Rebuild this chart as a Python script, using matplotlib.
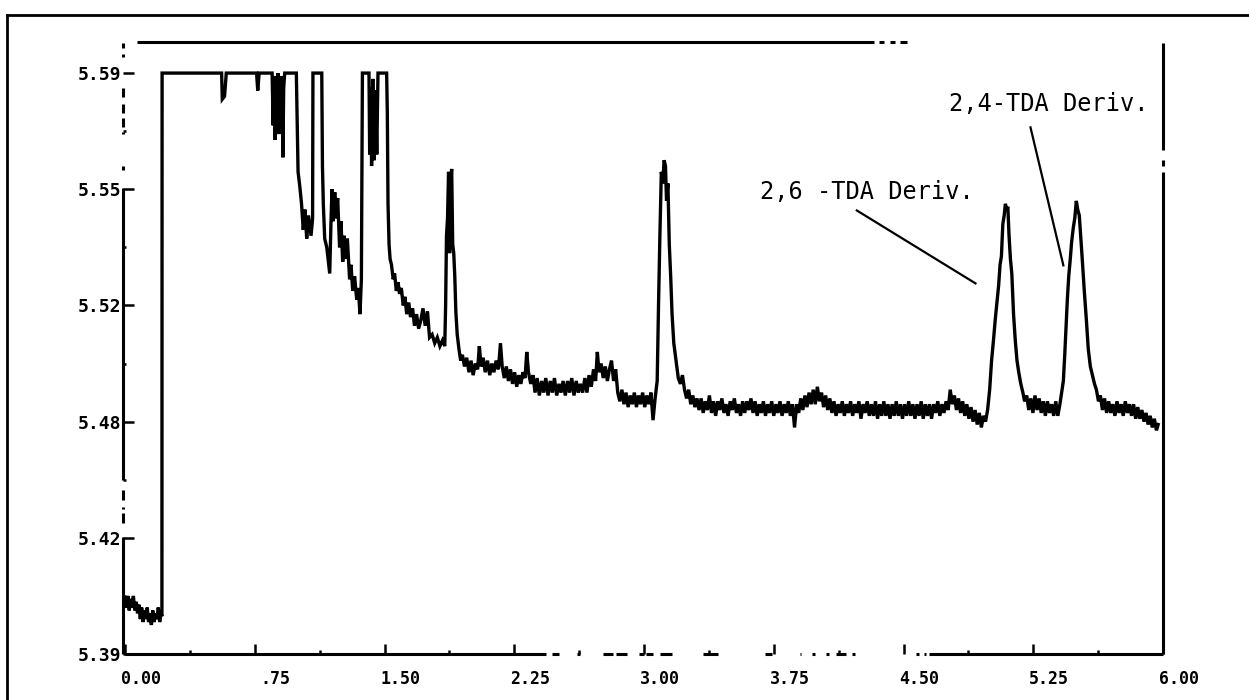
import matplotlib
matplotlib.use("Agg")
import matplotlib.pyplot as plt
from matplotlib.lines import Line2D
from matplotlib.transforms import ScaledTranslation

# ---- data (retention time in min, detector signal) ----
time_min = [
    0.000, 0.008, 0.016, 0.024, 0.032, 0.040, 0.048, 0.056, 0.064, 0.072,
    0.080, 0.088, 0.096, 0.104, 0.112, 0.120, 0.128, 0.136, 0.144, 0.152,
    0.160, 0.168, 0.176, 0.184, 0.192, 0.200, 0.208, 0.213, 0.214,
    0.558, 0.562, 0.575, 0.585, 0.760, 0.767, 0.775,
    0.850, 0.856, 0.862, 0.866, 0.872, 0.878, 0.884, 0.890, 0.896, 0.902,
    0.908, 0.912, 0.917, 0.923, 0.990, 0.995, 1.000, 1.010, 1.020, 1.030,
    1.040, 1.050, 1.060, 1.075, 1.084, 1.086, 1.137, 1.141, 1.146, 1.154,
    1.166, 1.183, 1.190, 1.196, 1.203, 1.212, 1.220, 1.229, 1.240, 1.248,
    1.258, 1.266, 1.275, 1.285, 1.298, 1.306, 1.316, 1.327, 1.339, 1.348,
    1.358, 1.366, 1.372, 1.410, 1.414, 1.420, 1.425, 1.432, 1.440, 1.448,
    1.455, 1.462, 1.512, 1.516, 1.520, 1.526, 1.532, 1.540, 1.550, 1.558,
    1.568, 1.578, 1.587, 1.597, 1.608, 1.618, 1.628, 1.640, 1.650, 1.662,
    1.673, 1.685, 1.697, 1.710, 1.722, 1.735, 1.748, 1.760, 1.775, 1.790,
    1.805, 1.820, 1.835, 1.848, 1.853, 1.858, 1.864, 1.870, 1.876, 1.882,
    1.888, 1.894, 1.900, 1.906, 1.912, 1.920, 1.930, 1.940, 1.950, 1.962,
    1.975, 1.988, 2.000, 2.012, 2.025, 2.038, 2.048, 2.058, 2.070, 2.082,
    2.095, 2.108, 2.120, 2.132, 2.145, 2.158, 2.170, 2.180, 2.192, 2.204,
    2.216, 2.228, 2.240, 2.252, 2.264, 2.276, 2.288, 2.300, 2.312, 2.322,
    2.332, 2.345, 2.358, 2.370, 2.382, 2.395, 2.408, 2.420, 2.432, 2.445,
    2.458, 2.470, 2.482, 2.495, 2.508, 2.520, 2.532, 2.545, 2.558, 2.570,
    2.582, 2.595, 2.608, 2.620, 2.632, 2.645, 2.658, 2.670, 2.682, 2.695,
    2.708, 2.720, 2.730, 2.740, 2.752, 2.764, 2.776, 2.788, 2.800, 2.812,
    2.824, 2.836, 2.848, 2.860, 2.872, 2.884, 2.896, 2.908, 2.920, 2.932,
    2.944, 2.956, 2.968, 2.980, 2.992, 3.004, 3.016, 3.028, 3.040, 3.052,
    3.064, 3.076, 3.084, 3.092, 3.100, 3.108, 3.116, 3.124, 3.130, 3.138,
    3.146, 3.154, 3.162, 3.172, 3.185, 3.198, 3.210, 3.222, 3.234, 3.246,
    3.258, 3.270, 3.282, 3.294, 3.306,
    3.318, 3.330, 3.342, 3.354, 3.366, 3.378, 3.390, 3.402, 3.414, 3.426,
    3.438, 3.450, 3.462, 3.474, 3.486, 3.498, 3.510, 3.522, 3.534, 3.546,
    3.558, 3.570, 3.582, 3.594, 3.606, 3.618, 3.630, 3.642, 3.654, 3.666,
    3.678, 3.690, 3.702, 3.714, 3.726, 3.738, 3.750, 3.762, 3.774, 3.786,
    3.798, 3.810, 3.822, 3.834, 3.846, 3.858, 3.870, 3.882, 3.894, 3.906,
    3.918, 3.930, 3.942, 3.954, 3.966, 3.978, 3.990, 4.002, 4.014, 4.026,
    4.038, 4.050, 4.062, 4.074, 4.086, 4.098, 4.110, 4.122, 4.134, 4.146,
    4.158, 4.170, 4.182, 4.194, 4.206, 4.218, 4.230, 4.242, 4.254, 4.266,
    4.278, 4.290, 4.302, 4.314, 4.326, 4.338, 4.350, 4.362, 4.374, 4.386,
    4.398, 4.410, 4.422, 4.434, 4.446, 4.458, 4.470, 4.482, 4.494, 4.506,
    4.518, 4.530, 4.542, 4.554, 4.566, 4.578, 4.590, 4.602, 4.614, 4.626,
    4.638, 4.650, 4.662, 4.674, 4.686, 4.698, 4.710, 4.722, 4.734, 4.746,
    4.758, 4.770, 4.782, 4.794, 4.806, 4.818, 4.830, 4.842, 4.854, 4.866,
    4.878, 4.890, 4.902, 4.914, 4.926, 4.938, 4.950, 4.962, 4.974, 4.986,
    4.998, 5.009, 5.020, 5.030, 5.040, 5.050, 5.058, 5.066, 5.074, 5.082,
    5.089, 5.096, 5.103, 5.110, 5.118, 5.126, 5.136, 5.146, 5.156, 5.166,
    5.178, 5.190, 5.200, 5.212, 5.224, 5.236, 5.248, 5.260, 5.272, 5.284,
    5.296, 5.308, 5.320, 5.332, 5.344, 5.356, 5.368, 5.380, 5.392, 5.404,
    5.414, 5.424, 5.432, 5.440, 5.447, 5.455, 5.464, 5.472, 5.482, 5.490,
    5.499, 5.507, 5.516, 5.524, 5.532, 5.545, 5.557, 5.568, 5.580, 5.592,
    5.604, 5.615, 5.627, 5.638, 5.650, 5.662, 5.674, 5.686, 5.698, 5.710,
    5.722, 5.734, 5.746, 5.758, 5.770, 5.782, 5.794, 5.806, 5.818, 5.830,
    5.842, 5.854, 5.866, 5.878, 5.890, 5.902, 5.914, 5.926, 5.938, 5.950,
    5.962, 5.972,
]
signal = [
    5.409, 5.406, 5.410, 5.405, 5.409, 5.406, 5.410, 5.405, 5.408, 5.404,
    5.407, 5.402, 5.406, 5.401, 5.405, 5.402, 5.406, 5.401, 5.404, 5.400,
    5.405, 5.401, 5.404, 5.402, 5.406, 5.401, 5.404, 5.403, 5.590,
    5.590, 5.581, 5.582, 5.590, 5.590, 5.584, 5.590,
    5.590, 5.572, 5.589, 5.567, 5.588, 5.570, 5.590, 5.569, 5.586, 5.571,
    5.589, 5.561, 5.585, 5.590, 5.590, 5.573, 5.556, 5.551, 5.545, 5.536,
    5.543, 5.533, 5.541, 5.534, 5.540, 5.590, 5.590, 5.558, 5.545, 5.533,
    5.530, 5.521, 5.538, 5.550, 5.539, 5.549, 5.540, 5.547, 5.530, 5.539,
    5.525, 5.534, 5.526, 5.533, 5.519, 5.524, 5.515, 5.520, 5.512, 5.516,
    5.507, 5.519, 5.590, 5.590, 5.562, 5.585, 5.558, 5.588, 5.560, 5.584,
    5.562, 5.590, 5.590, 5.576, 5.545, 5.531, 5.526, 5.524, 5.519, 5.521,
    5.515, 5.518, 5.514, 5.516, 5.510, 5.513, 5.507, 5.511, 5.506, 5.509,
    5.503, 5.507, 5.502, 5.505, 5.509, 5.503, 5.508, 5.499, 5.500, 5.497,
    5.499, 5.496, 5.498, 5.496, 5.510, 5.534, 5.540, 5.556, 5.528, 5.552,
    5.557, 5.531, 5.528, 5.520, 5.508, 5.500, 5.495, 5.491, 5.493, 5.489,
    5.492, 5.487, 5.491, 5.486, 5.490, 5.488, 5.496, 5.489, 5.492, 5.487,
    5.491, 5.486, 5.490, 5.487, 5.491, 5.488, 5.497, 5.489, 5.485, 5.489,
    5.484, 5.488, 5.483, 5.487, 5.482, 5.486, 5.483, 5.487, 5.485, 5.494,
    5.487, 5.483, 5.486, 5.480, 5.485, 5.479, 5.484, 5.480, 5.485, 5.479,
    5.484, 5.480, 5.485, 5.479, 5.483, 5.480, 5.484, 5.479, 5.484, 5.480,
    5.485, 5.479, 5.484, 5.480, 5.483, 5.480, 5.485, 5.480, 5.486, 5.482,
    5.488, 5.484, 5.494, 5.487, 5.490, 5.485, 5.489, 5.484, 5.488, 5.491,
    5.484, 5.488, 5.480, 5.477, 5.481, 5.476, 5.480, 5.475, 5.479, 5.476,
    5.480, 5.475, 5.479, 5.476, 5.480, 5.475, 5.479, 5.476, 5.480, 5.4705,
    5.478, 5.484, 5.511, 5.535, 5.556, 5.552, 5.560, 5.558, 5.546, 5.552,
    5.531, 5.520, 5.507, 5.497, 5.491, 5.485, 5.483, 5.486, 5.481, 5.478,
    5.481, 5.476, 5.479, 5.475, 5.478,
    5.474, 5.478, 5.473, 5.477, 5.474, 5.479, 5.473, 5.477, 5.472, 5.477,
    5.474, 5.478, 5.473, 5.476, 5.472, 5.477, 5.474, 5.478, 5.473, 5.476,
    5.472, 5.477, 5.473, 5.477, 5.474, 5.478, 5.473, 5.477, 5.472, 5.476,
    5.473, 5.477, 5.472, 5.476, 5.473, 5.477, 5.472, 5.476, 5.473, 5.477,
    5.472, 5.476, 5.473, 5.477, 5.472, 5.476, 5.468, 5.476, 5.473, 5.478,
    5.474, 5.479, 5.475, 5.480, 5.476, 5.481, 5.476, 5.482, 5.477, 5.480,
    5.475, 5.479, 5.474, 5.478, 5.473, 5.477, 5.472, 5.476, 5.473, 5.477,
    5.472, 5.476, 5.473, 5.477, 5.472, 5.476, 5.473, 5.477, 5.471, 5.476,
    5.473, 5.477, 5.472, 5.476, 5.472, 5.477, 5.471, 5.476, 5.472, 5.477,
    5.472, 5.476, 5.471, 5.476, 5.472, 5.477, 5.472, 5.476, 5.471, 5.476,
    5.472, 5.477, 5.472, 5.476, 5.471, 5.476, 5.472, 5.477, 5.471, 5.476,
    5.472, 5.476, 5.471, 5.476, 5.473, 5.477, 5.472, 5.476, 5.473, 5.477,
    5.474, 5.481, 5.476, 5.479, 5.474, 5.478, 5.473, 5.477, 5.472, 5.476,
    5.471, 5.475, 5.470, 5.474, 5.469, 5.473, 5.468, 5.472, 5.470, 5.474,
    5.481, 5.491, 5.498, 5.505, 5.511, 5.517, 5.524, 5.527, 5.538, 5.541,
    5.545, 5.543, 5.544, 5.534, 5.526, 5.521, 5.507, 5.498, 5.491, 5.487,
    5.483, 5.480, 5.477, 5.479, 5.474, 5.478, 5.473, 5.479, 5.474, 5.478,
    5.473, 5.477, 5.472, 5.477, 5.473, 5.476, 5.472, 5.477, 5.472, 5.476,
    5.480, 5.484, 5.493, 5.503, 5.512, 5.520, 5.526, 5.532, 5.537, 5.540,
    5.546, 5.543, 5.541, 5.534, 5.527, 5.515, 5.505, 5.495, 5.489, 5.486,
    5.483, 5.481, 5.477, 5.479, 5.474, 5.478, 5.473, 5.477, 5.473, 5.476,
    5.472, 5.477, 5.473, 5.476, 5.472, 5.477, 5.473, 5.476, 5.472, 5.476,
    5.471, 5.475, 5.471, 5.474, 5.470, 5.473, 5.469, 5.472, 5.468, 5.471,
    5.467, 5.469,
]

xtick_vals = [0.0, 0.75, 1.5, 2.25, 3.0, 3.75, 4.5, 5.25, 6.0]
xtick_labels = ["0.00", ".75", "1.50", "2.25", "3.00", "3.75", "4.50", "5.25", "6.00"]
ytick_vals = [5.39, 5.43, 5.47, 5.51, 5.55, 5.59]
ytick_labels = ["5.39", "5.42", "5.48", "5.52", "5.55", "5.59"]

peak_labels = ["2,6 -TDA Deriv.", "2,4-TDA Deriv."]
label_pos = [(4.905, 5.549), (5.915, 5.5795)]
leader_x = [(4.23, 4.916), (5.234, 5.424)]
leader_y = [(5.5427, 5.5176), (5.5713, 5.5238)]

# broken pieces of the scanned axis frame
bottom_pieces = [(0.0, 2.435), (2.47, 2.51), (2.61, 2.63), (2.76, 2.82), (2.84, 2.90),
                 (2.97, 3.00), (3.01, 3.05), (3.09, 3.16), (3.34, 3.43), (3.70, 3.74),
                 (3.90, 3.91), (3.97, 3.99), (4.05, 4.07), (4.11, 4.17), (4.20, 4.22),
                 (4.57, 4.59), (4.62, 4.63), (4.645, 6.0)]
left_pieces = [(5.5988, 5.6005), (5.5954, 5.5967), (5.5816, 5.585), (5.5764, 5.5795),
               (5.5713, 5.5744), (5.5689, 5.5696), (5.5565, 5.5579), (5.4499, 5.5503),
               (5.443, 5.4464), (5.4399, 5.4406), (5.4351, 5.4385), (5.39, 5.4302)]
top_pieces = [(0.069, 4.328), (4.36, 4.39), (4.42, 4.45), (4.48, 4.52)]
right_pieces = [(5.39, 5.556), (5.558, 5.560), (5.5635, 5.6005)]

plt.rcParams["font.family"] = "DejaVu Sans Mono"

fig = plt.figure(figsize=(12.49, 7.0), dpi=100)
ax = fig.add_axes([123 / 1249, 46 / 700, 1040 / 1249, 612 / 700])

ax.plot(time_min, signal, color="black", linewidth=2.4, solid_joinstyle="miter")

for (x0, x1), (y0, y1) in zip(leader_x, leader_y):
    ax.plot([x0, x1], [y0, y1], color="black", linewidth=1.6)
for txt, (tx, ty) in zip(peak_labels, label_pos):
    ax.text(tx, ty, txt, fontsize=17, ha="right", va="center", color="black")

ax.set_xlim(-0.012, 6.0)
ax.set_ylim(5.39, 5.6007)

for sp in ax.spines.values():
    sp.set_visible(False)

frame_kw = dict(color="black", linewidth=2.2, clip_on=False)
ax.hlines([5.39] * len(bottom_pieces), [p[0] for p in bottom_pieces],
          [p[1] for p in bottom_pieces], **frame_kw)
ax.hlines([5.6007] * len(top_pieces), [p[0] for p in top_pieces],
          [p[1] for p in top_pieces], **frame_kw)
ax.vlines([-0.012] * len(left_pieces), [p[0] for p in left_pieces],
          [p[1] for p in left_pieces], **frame_kw)
ax.vlines([6.0] * len(right_pieces), [p[0] for p in right_pieces],
          [p[1] for p in right_pieces], **frame_kw)

ax.set_xticks(xtick_vals)
ax.set_xticklabels(xtick_labels, fontsize=12, fontweight="bold", ha="right")
ax.set_xticks([v + 0.375 for v in xtick_vals[:-1]], minor=True)
ax.set_yticks(ytick_vals)
ax.set_yticklabels(ytick_labels, fontsize=13, fontweight="bold")
ax.set_yticks([v + 0.02 for v in ytick_vals[:-1]], minor=True)

ax.tick_params(axis="x", which="major", direction="in", length=7, width=1.8, pad=11.5)
ax.tick_params(axis="x", which="minor", direction="in", length=3, width=1.8)
ax.tick_params(axis="y", which="major", direction="in", length=8, width=1.8, pad=1)
ax.tick_params(axis="y", which="minor", direction="in", length=2, width=1.8)

shift = ScaledTranslation(36 / 100, 0, fig.dpi_scale_trans)
for lbl in ax.get_xticklabels():
    lbl.set_transform(lbl.get_transform() + shift)

# outer border of the scanned page
fig.add_artist(Line2D([7 / 1249, 7 / 1249], [0, 1 - 15 / 700], color="black", linewidth=2))
fig.add_artist(Line2D([7 / 1249, 1], [1 - 15 / 700, 1 - 15 / 700], color="black", linewidth=2))

fig.savefig("out.png", dpi=100, facecolor="white")
